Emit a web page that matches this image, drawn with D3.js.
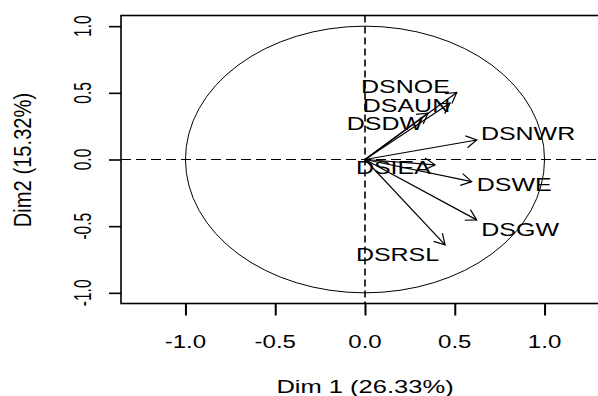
<!DOCTYPE html>
<html><head><meta charset="utf-8">
<script src="https://cdn.jsdelivr.net/npm/d3@7"></script>
<style>
html,body{margin:0;padding:0;background:#fff;}
text{font-family:"Liberation Sans",Arial,sans-serif;fill:#000;}
</style></head>
<body>
<svg id="chart" width="598" height="396"></svg>
<script>
// ---- data ----
const variables = ["DSNOE","DSAUN","DSDW","DSNWR","DSIEA","DSWE","DSGW","DSRSL"];
const dim1 = [0.511, 0.474, 0.351, 0.622, 0.39, 0.594, 0.622, 0.446];
const dim2 = [0.503, 0.423, 0.348, 0.146, -0.04, -0.166, -0.453, -0.640];
const labelDim1 = [0.225, 0.231, 0.111, 0.908, 0.158, 0.831, 0.864, 0.181];
const labelDim2 = [0.545, 0.408, 0.268, 0.193, -0.062, -0.184, -0.527, -0.714];
const xTicks = [-1.0, -0.5, 0.0, 0.5, 1.0];
const yTicks = [-1.0, -0.5, 0.0, 0.5, 1.0];
const xTitle = "Dim 1 (26.33%)";
const yTitle = "Dim2 (15.32%)";

const svg = d3.select("#chart");
const x = d3.scaleLinear().domain([-1.359, 1.359]).range([121, 609]);
const y = d3.scaleLinear().domain([-1.08, 1.08]).range([303.5, 15.5]);
const FS = 18.5, SX = 1.35, CAP = 0.716 * FS;

function htext(px, py, str, sx, anchor) {
  const g = svg.append("g").attr("transform", `translate(${px},${py}) scale(${sx},1)`);
  g.append("text").attr("x", 0).attr("y", 0).attr("font-size", FS)
    .attr("text-anchor", anchor || "middle").text(str);
}
function vtext(px, py, str, sLen, sPerp) {
  const g = svg.append("g").attr("transform", `translate(${px},${py}) rotate(-90) scale(${sLen},${sPerp})`);
  g.append("text").attr("x", 0).attr("y", 0).attr("font-size", FS)
    .attr("text-anchor", "middle").text(str);
}

// box
const x0 = x.range()[0], x1 = x.range()[1], y0 = y.range()[1], y1 = y.range()[0];
svg.append("rect").attr("x", x0).attr("y", y0).attr("width", x1 - x0).attr("height", y1 - y0)
  .attr("fill", "none").attr("stroke", "#000").attr("stroke-width", 1.6);

// unit circle (ellipse because of unequal aspect)
svg.append("ellipse").attr("cx", x(0)).attr("cy", y(0))
  .attr("rx", x(1) - x(0)).attr("ry", y(0) - y(1))
  .attr("fill", "none").attr("stroke", "#000").attr("stroke-width", 1);

// dashed axes
svg.append("line").attr("x1", x0).attr("x2", x1).attr("y1", y(0)).attr("y2", y(0))
  .attr("stroke", "#000").attr("stroke-width", 1.2).attr("stroke-dasharray", "10,5");
svg.append("line").attr("x1", x(0)).attr("x2", x(0)).attr("y1", y0).attr("y2", y1)
  .attr("stroke", "#000").attr("stroke-width", 1.6).attr("stroke-dasharray", "7,4");

// axes ticks
const xAxis = d3.axisBottom(x).tickValues(xTicks).tickSize(12).tickFormat("");
svg.append("g").attr("transform", `translate(0,${y1})`).call(xAxis)
  .call(g => g.select(".domain").remove())
  .call(g => g.selectAll("line").attr("stroke-width", 2));
const yAxis = d3.axisLeft(y).tickValues(yTicks).tickSize(12).tickFormat("");
svg.append("g").attr("transform", `translate(${x0},0)`).call(yAxis)
  .call(g => g.select(".domain").remove())
  .call(g => g.selectAll("line").attr("stroke-width", 1.6));

xTicks.forEach(t => htext(x(t), 348, d3.format(".1f")(t).replace("−","-"), 1.3));
yTicks.forEach(t => vtext(90.5, y(t), d3.format(".1f")(t).replace("−","-"), 0.84, 1.26));
htext(x(0), 393, xTitle, 1.38);
vtext(31, 160, yTitle, 1.09, 1.26);

// arrows
const HL = 12, ANG = Math.PI / 6;
variables.forEach((v, i) => {
  const xs = x(0), ys = y(0), xe = x(dim1[i]), ye = y(dim2[i]);
  svg.append("line").attr("x1", xs).attr("y1", ys).attr("x2", xe).attr("y2", ye)
    .attr("stroke", "#000").attr("stroke-width", 1.2);
  const a = Math.atan2(ye - ys, xe - xs);
  const p1 = [xe - HL * Math.cos(a - ANG), ye - HL * Math.sin(a - ANG)];
  const p2 = [xe - HL * Math.cos(a + ANG), ye - HL * Math.sin(a + ANG)];
  svg.append("path").attr("d", `M${p1}L${xe},${ye}L${p2}`)
    .attr("fill", "none").attr("stroke", "#000").attr("stroke-width", 1.2);
});
// labels
variables.forEach((v, i) => {
  htext(x(labelDim1[i]), y(labelDim2[i]) + CAP / 2, v, SX);
});
</script>
</body></html>
